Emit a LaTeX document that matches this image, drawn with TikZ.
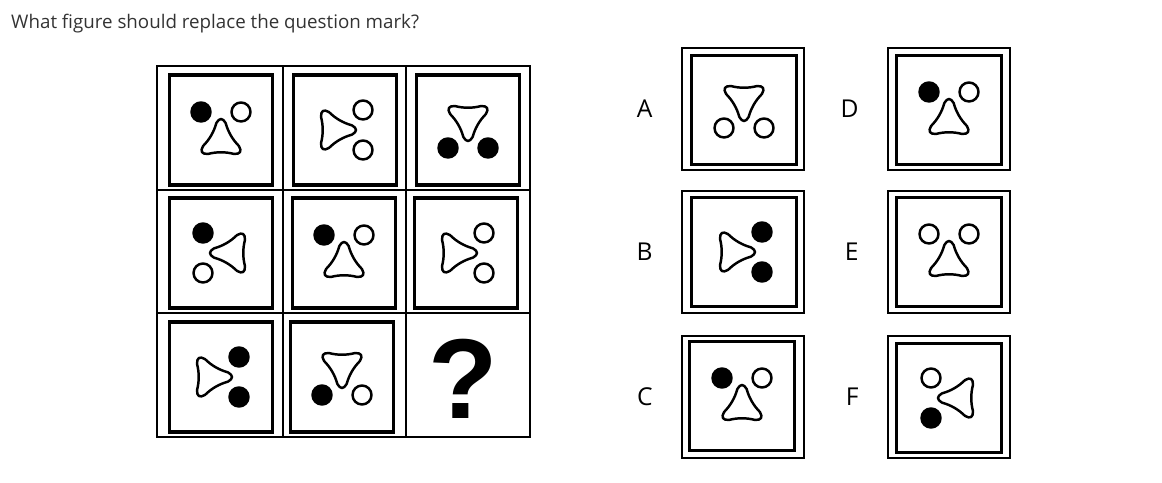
\documentclass[tikz,border=0pt]{standalone}
\usepackage{fontspec}
\setmainfont{Open Sans}
\newfontfamily\qfont{Liberation Sans}
\usetikzlibrary{positioning}
\definecolor{titlegray}{RGB}{51,51,51}
\tikzstyle{gridline} = [line width=1.3pt, black]
\tikzstyle{cellbox} = [draw, line width=2.6pt, minimum width=3.1cm, minimum height=3.3cm, inner sep=0pt]
\tikzstyle{optbox} = [draw, line width=1.2pt, minimum width=3.67cm, minimum height=3.67cm, inner sep=0pt]
\tikzstyle{innerbox} = [draw, line width=2.6pt, minimum width=3.13cm, minimum height=3.25cm, inner sep=0pt]
\tikzstyle{shapeline} = [line width=2.1pt, line join=round]
\tikzstyle{optlabel} = [inner sep=0pt, font=\fontsize{21}{21}\selectfont]
% rounded triangle, apex up
\newcommand{\tripath}{%
  \draw[shapeline, shift={(0,11)}, scale=0.93] (-5,-19.34) .. controls (-1.67,-25.11) and (1.67,-25.11) .. (5,-19.34)
    .. controls (7.59,-9.86) and (12.34,-1.64) .. (19.25,5.34)
    .. controls (22.58,11.11) and (20.92,14) .. (14.25,14)
    .. controls (4.75,11.5) and (-4.75,11.5) .. (-14.25,14)
    .. controls (-20.92,14) and (-22.58,11.11) .. (-19.25,5.34)
    .. controls (-12.34,-1.64) and (-7.59,-9.86) .. cycle;}
% figure: box, rotation, fill of left dot, fill of right dot
\newcommand{\puzzlefig}[4]{%
  \begin{scope}[shift={(#1.center)}, rotate=#2]
    \tripath
    \draw[shapeline, fill=#3] (-20,-18) circle (9.5);
    \draw[shapeline, fill=#4] (20,-18) circle (9.5);
  \end{scope}}

\begin{document}
\begin{tikzpicture}[x=0.03cm, y=-0.03cm]
\useasboundingbox (0,0) rectangle (1162,483);

% Title
\node[anchor=base west, inner sep=0pt, text=titlegray, font=\fontsize{16}{16}\selectfont] (title) at (11,29) {What figure should replace the question mark?};

% Grid
\draw[gridline] (157,66) rectangle (530,437);
\draw[gridline] (283,66) -- (283,437);
\draw[gridline] (406,66) -- (406,437);
\draw[gridline] (157,190) -- (530,190);
\draw[gridline] (157,313) -- (530,313);

% Cells
\node[cellbox] (r1c1) at (221,130) {};
\node[cellbox] (r1c2) at (345,130) {};
\node[cellbox] (r1c3) at (468,130) {};
\node[cellbox] (r2c1) at (221,253) {};
\node[cellbox] (r2c2) at (344,253) {};
\node[cellbox] (r2c3) at (466,253) {};
\node[cellbox] (r3c1) at (221,377) {};
\node[cellbox] (r3c2) at (342,377) {};
\node[font=\qfont\bfseries\fontsize{97}{97}\selectfont, inner sep=0pt] (qmark) at (463,379) {?};

\puzzlefig{r1c1}{0}{black}{white}
\puzzlefig{r1c2}{-90}{white}{white}
\puzzlefig{r1c3}{180}{black}{black}
\puzzlefig{r2c1}{90}{white}{black}
\puzzlefig{r2c2}{0}{black}{white}
\puzzlefig{r2c3}{-90}{white}{white}
\puzzlefig{r3c1}{-90}{black}{black}
\puzzlefig{r3c2}{180}{white}{black}

% Options
\node[optbox] (optA) at (743,109) {};
\node[optbox] (optB) at (743,252) {};
\node[optbox] (optC) at (743,397) {};
\node[optbox] (optD) at (949,109) {};
\node[optbox] (optE) at (949,252) {};
\node[optbox] (optF) at (949,397) {};

\node[innerbox] (inA) at (744,110) {};
\node[innerbox] (inB) at (744,252) {};
\node[innerbox] (inC) at (742,396) {};
\node[innerbox] (inD) at (949,110) {};
\node[innerbox] (inE) at (949,252) {};
\node[innerbox] (inF) at (949,398) {};

\puzzlefig{inA}{180}{white}{white}
\puzzlefig{inB}{-90}{black}{black}
\puzzlefig{inC}{0}{black}{white}
\puzzlefig{inD}{0}{black}{white}
\puzzlefig{inE}{0}{white}{white}
\puzzlefig{inF}{90}{black}{white}

\node[optlabel, left=0.85cm of optA] (labA) {A};
\node[optlabel, left=0.85cm of optB] (labB) {B};
\node[optlabel, left=0.85cm of optC] (labC) {C};
\node[optlabel, left=0.85cm of optD] (labD) {D};
\node[optlabel, left=0.85cm of optE] (labE) {E};
\node[optlabel, left=0.85cm of optF] (labF) {F};

\end{tikzpicture}
\end{document}
